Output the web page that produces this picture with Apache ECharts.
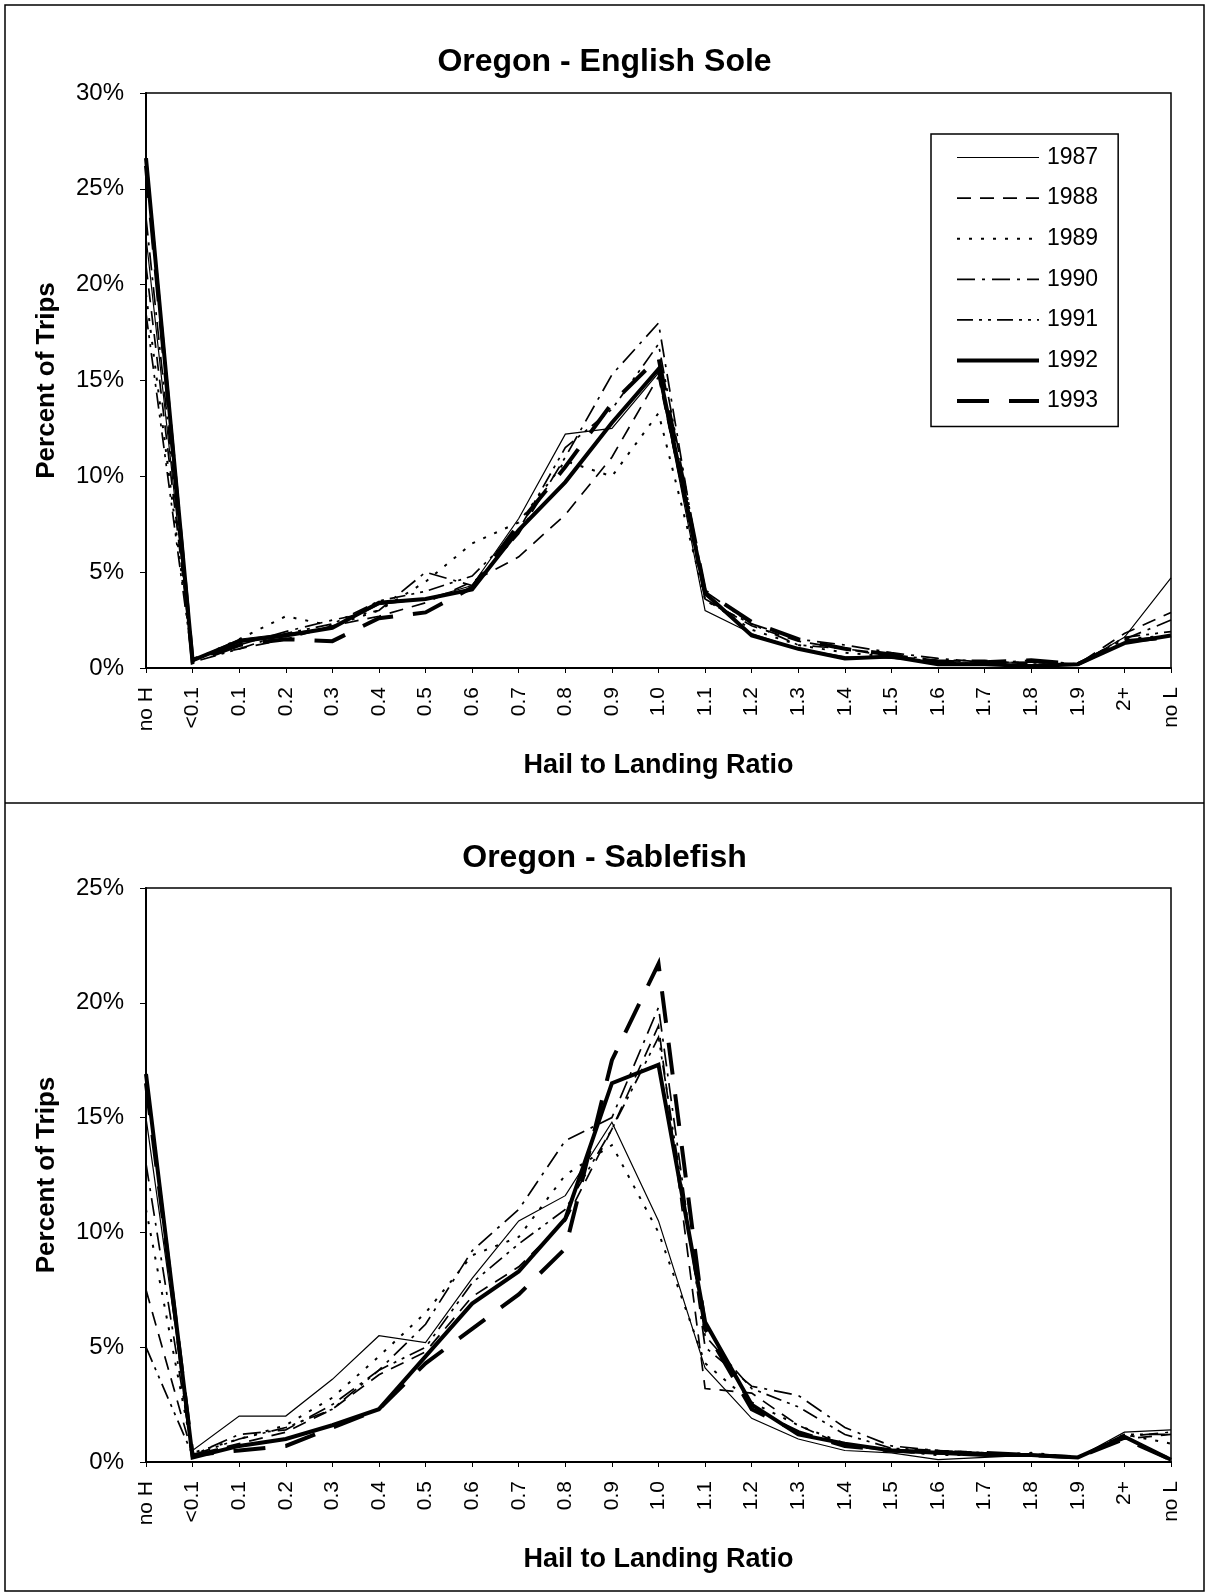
<!DOCTYPE html>
<html>
<head>
<meta charset="utf-8">
<script src="https://cdn.jsdelivr.net/npm/echarts@6/dist/echarts.min.js"></script>
<style>
html,body{margin:0;padding:0;background:#fff;}
#chart{width:1209px;height:1596px;}
</style>
</head>
<body>
<div id="chart"></div>
<script>
// ---- data ----
var categories = ['no H','<0.1','0.1','0.2','0.3','0.4','0.5','0.6','0.7','0.8','0.9','1.0','1.1','1.2','1.3','1.4','1.5','1.6','1.7','1.8','1.9','2+','no L'];
var years = ['1987','1988','1989','1990','1991','1992','1993'];

// Oregon - English Sole (percent of trips)
var sole1987 = [22.5,0.4,1.5,1.8,2.1,3.3,3.6,4.3,7.8,12.2,12.5,15.4,3.0,1.8,1.0,0.6,0.5,0.3,0.3,0.3,0.2,1.6,4.7];
var sole1988 = [21.0,0.5,1.0,1.5,2.2,2.7,3.4,4.5,5.8,8.0,11.0,15.2,3.6,2.2,1.4,1.0,0.6,0.4,0.3,0.3,0.2,1.8,2.9];
var sole1989 = [19.5,0.4,1.5,2.7,2.2,3.0,4.5,6.5,7.6,10.8,10.0,13.3,3.6,2.0,1.2,0.8,0.6,0.3,0.2,0.4,0.2,1.5,1.7];
var sole1990 = [23.5,0.5,1.2,1.9,2.5,3.0,5.0,4.3,7.0,11.0,15.3,18.0,3.5,2.3,1.5,1.2,0.8,0.5,0.3,0.3,0.2,1.5,2.5];
var sole1991 = [18.5,0.3,1.0,1.8,2.3,3.5,4.0,4.8,7.2,11.5,13.5,16.9,4.0,2.3,1.2,1.0,0.7,0.4,0.4,0.2,0.2,1.6,1.9];
var sole1992 = [26.6,0.4,1.4,1.7,2.1,3.4,3.6,4.1,7.2,9.7,12.8,15.6,3.9,1.7,1.0,0.5,0.6,0.2,0.2,0.1,0.2,1.3,1.7];
var sole1993 = [26.2,0.3,1.2,1.5,1.4,2.6,2.9,4.2,7.5,10.5,13.8,16.2,4.0,2.4,1.5,1.0,0.7,0.3,0.3,0.4,0.2,1.4,1.6];

// Oregon - Sablefish (percent of trips)
var sable1987 = [15.0,0.5,2.0,2.0,3.6,5.5,5.2,8.0,10.5,11.6,14.8,10.5,4.1,1.9,1.0,0.5,0.4,0.1,0.2,0.3,0.2,1.3,1.4];
var sable1988 = [7.5,0.3,0.8,1.3,2.3,3.8,4.8,7.2,8.5,10.5,14.5,19.0,3.2,3.0,1.6,0.7,0.5,0.5,0.4,0.3,0.2,1.0,1.2];
var sable1989 = [11.0,0.4,1.0,1.6,2.8,4.6,6.5,9.0,9.8,12.5,13.8,10.0,4.3,2.6,1.6,0.8,0.5,0.3,0.3,0.4,0.2,1.2,0.8];
var sable1990 = [13.0,0.3,1.2,1.4,2.5,4.0,6.0,9.2,11.0,14.0,15.0,19.8,5.0,3.3,2.9,1.5,0.7,0.5,0.4,0.3,0.2,1.1,1.3];
var sable1991 = [5.0,0.3,1.0,1.5,2.3,4.0,5.0,7.8,9.5,11.0,14.5,18.5,5.5,3.2,2.4,1.2,0.6,0.5,0.4,0.3,0.2,1.2,1.2];
var sable1992 = [16.9,0.2,0.7,1.0,1.6,2.3,4.6,6.9,8.3,10.6,16.5,17.3,6.1,2.5,1.2,0.8,0.5,0.4,0.3,0.3,0.2,1.1,0.1];
var sable1993 = [16.5,0.3,0.5,0.7,1.5,2.3,4.3,5.8,7.3,9.3,17.5,21.7,5.8,2.3,1.3,0.7,0.5,0.4,0.4,0.3,0.2,1.0,0.1];

var soleData = [sole1987,sole1988,sole1989,sole1990,sole1991,sole1992,sole1993];
var sableData = [sable1987,sable1988,sable1989,sable1990,sable1991,sable1992,sable1993];

// ---- styles ----
var FONT = '"Liberation Sans", Arial, sans-serif';
var lineStyles = [
  {width:1.2, type:'solid'},
  {width:1.7, type:[14,9]},
  {width:2, type:[3,9]},
  {width:1.7, type:[18,7,3,7]},
  {width:1.7, type:[16,6,3,6,3,6]},
  {width:4, type:'solid'},
  {width:4, type:[32,20]}
];

function makeSeries(dataArr, axisIdx) {
  return dataArr.map(function (d, i) {
    return {
      name: years[i],
      type: 'line',
      xAxisIndex: axisIdx,
      yAxisIndex: axisIdx,
      data: d,
      symbol: 'none',
      showSymbol: false,
      animation: false,
      lineStyle: {color:'#000', width: lineStyles[i].width, type: lineStyles[i].type, cap:'butt', join:'miter'},
      itemStyle: {color:'#000'}
    };
  });
}

function xAxisDef(gridIdx) {
  return {
    type: 'category', gridIndex: gridIdx, data: categories, boundaryGap: false,
    axisLine: {lineStyle:{color:'#000', width:2}},
    axisTick: {show:true, length:5, lineStyle:{color:'#000', width:1}},
    axisLabel: {rotate:90, interval:0, fontSize:21, color:'#000', fontFamily:FONT, margin:19},
    name: 'Hail to Landing Ratio', nameLocation:'middle', nameGap:84,
    nameTextStyle: {fontSize:27, fontWeight:'bold', color:'#000', fontFamily:FONT},
    splitLine: {show:false}
  };
}
function yAxisDef(gridIdx, max) {
  return {
    type: 'value', gridIndex: gridIdx, min:0, max:max, interval:5,
    axisLine: {show:true, lineStyle:{color:'#000', width:2}},
    axisTick: {show:true, length:6, lineStyle:{color:'#000', width:1}},
    axisLabel: {formatter:'{value}%', fontSize:24, color:'#000', fontFamily:FONT, margin:22},
    splitLine: {show:false},
    name: 'Percent of Trips', nameLocation:'middle', nameGap:86,
    nameTextStyle: {fontSize:26, fontWeight:'bold', color:'#000', fontFamily:FONT}
  };
}

var legendData = years.map(function (y, i) {
  return {name: y, lineStyle: {color:'#000', width: lineStyles[i].width, type: lineStyles[i].type, cap:'butt'}};
});

var chart = echarts.init(document.getElementById('chart'), null, {renderer:'canvas'});
chart.setOption({
  backgroundColor: '#fff',
  animation: false,
  title: [
    {text:'Oregon - English Sole', left:'center', top:41, textStyle:{fontSize:32, fontWeight:'bold', color:'#000', fontFamily:FONT}},
    {text:'Oregon - Sablefish', left:'center', top:837, textStyle:{fontSize:32, fontWeight:'bold', color:'#000', fontFamily:FONT}}
  ],
  legend: {
    data: legendData,
    orient: 'vertical',
    left: 931, top: 134,
    backgroundColor: '#fff',
    borderColor: '#000', borderWidth: 1.5,
    padding: [12, 20, 14, 24],
    itemWidth: 82, itemHeight: 14, itemGap: 17.6,
    itemStyle: {color:'rgba(0,0,0,0)', borderColor:'rgba(0,0,0,0)', borderWidth:0, opacity:0},
    lineStyle: {width:'inherit', type:'inherit', color:'#000'},
    textStyle: {fontSize:23, color:'#000', fontFamily:FONT, padding:[0,0,0,3]}
  },
  grid: [
    {left:146, top:93, width:1025, height:575, show:true, borderColor:'#000', borderWidth:1.5, backgroundColor:'transparent'},
    {left:146, top:888, width:1025, height:574, show:true, borderColor:'#000', borderWidth:1.5, backgroundColor:'transparent'}
  ],
  xAxis: [xAxisDef(0), xAxisDef(1)],
  yAxis: [yAxisDef(0, 30), yAxisDef(1, 25)],
  series: makeSeries(soleData, 0).concat(makeSeries(sableData, 1)),
  graphic: [
    {type:'rect', shape:{x:5, y:5, width:1199, height:1586}, style:{fill:'none', stroke:'#000', lineWidth:1.5}, silent:true},
    {type:'line', shape:{x1:5, y1:803, x2:1204, y2:803}, style:{stroke:'#000', lineWidth:1.5}, silent:true}
  ]
});
</script>
</body>
</html>
